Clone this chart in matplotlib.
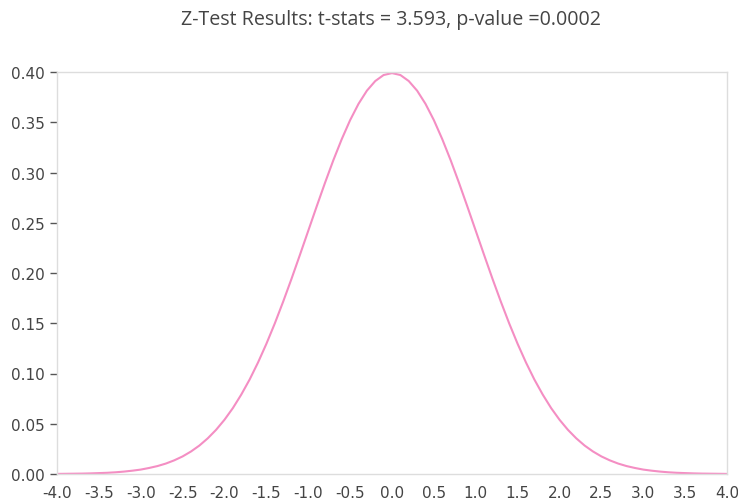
import matplotlib
matplotlib.use("Agg")
import matplotlib.pyplot as plt

plt.rcParams["font.family"] = ["DejaVu Sans"]

title = "Z-Test Results: t-stats = 3.593, p-value =0.0002"

z_values = [-4.0, -3.9, -3.8, -3.7, -3.6, -3.5, -3.4, -3.3, -3.2, -3.1,
            -3.0, -2.9, -2.8, -2.7, -2.6, -2.5, -2.4, -2.3, -2.2, -2.1,
            -2.0, -1.9, -1.8, -1.7, -1.6, -1.5, -1.4, -1.3, -1.2, -1.1,
            -1.0, -0.9, -0.8, -0.7, -0.6, -0.5, -0.4, -0.3, -0.2, -0.1,
            0.0, 0.1, 0.2, 0.3, 0.4, 0.5, 0.6, 0.7, 0.8, 0.9,
            1.0, 1.1, 1.2, 1.3, 1.4, 1.5, 1.6, 1.7, 1.8, 1.9,
            2.0, 2.1, 2.2, 2.3, 2.4, 2.5, 2.6, 2.7, 2.8, 2.9,
            3.0, 3.1, 3.2, 3.3, 3.4, 3.5, 3.6, 3.7, 3.8, 3.9, 4.0]

density = [0.0001, 0.0002, 0.0003, 0.0004, 0.0006, 0.0009, 0.0012, 0.0017, 0.0024, 0.0033,
           0.0044, 0.0060, 0.0079, 0.0104, 0.0136, 0.0175, 0.0224, 0.0283, 0.0355, 0.0440,
           0.0540, 0.0656, 0.0790, 0.0940, 0.1109, 0.1295, 0.1497, 0.1714, 0.1942, 0.2179,
           0.2420, 0.2661, 0.2897, 0.3123, 0.3332, 0.3521, 0.3683, 0.3814, 0.3910, 0.3970,
           0.3989, 0.3970, 0.3910, 0.3814, 0.3683, 0.3521, 0.3332, 0.3123, 0.2897, 0.2661,
           0.2420, 0.2179, 0.1942, 0.1714, 0.1497, 0.1295, 0.1109, 0.0940, 0.0790, 0.0656,
           0.0540, 0.0440, 0.0355, 0.0283, 0.0224, 0.0175, 0.0136, 0.0104, 0.0079, 0.0060,
           0.0044, 0.0033, 0.0024, 0.0017, 0.0012, 0.0009, 0.0006, 0.0004, 0.0003, 0.0002, 0.0001]

x_ticks = [-4.0, -3.5, -3.0, -2.5, -2.0, -1.5, -1.0, -0.5, 0.0, 0.5, 1.0, 1.5, 2.0, 2.5, 3.0, 3.5, 4.0]
y_ticks = [0.00, 0.05, 0.10, 0.15, 0.20, 0.25, 0.30, 0.35, 0.40]

fig = plt.figure(figsize=(7.38, 5.02), dpi=100)
ax = fig.add_axes([57/738, 27/502, 670/738, 402/502])

ax.plot(z_values, density, color="#f48ec3", linewidth=1.5, solid_capstyle="round",
        solid_joinstyle="round")

ax.set_xlim(-4.0, 4.0)
ax.set_ylim(0.0, 0.40)
ax.set_xticks(x_ticks)
ax.set_xticklabels([f"{v:.1f}" for v in x_ticks])
ax.set_yticks(y_ticks)
ax.set_yticklabels([f"{v:.2f}" for v in y_ticks])

for s in ax.spines.values():
    s.set_color("#dddddd")
    s.set_linewidth(1.0)

ax.tick_params(axis="y", length=5, width=1, color="#555555", labelcolor="#444444", labelsize=11, pad=4)
ax.tick_params(axis="x", length=0, labelcolor="#444444", labelsize=11, pad=8)
for lab in ax.get_xticklabels() + ax.get_yticklabels():
    lab.set_family("DejaVu Sans")

fig.text(391/738, 1 - 20/502, title, ha="center", va="center",
         fontsize=14.1, color="#444444", family="Open Sans")

fig.savefig("out.png", dpi=100)
